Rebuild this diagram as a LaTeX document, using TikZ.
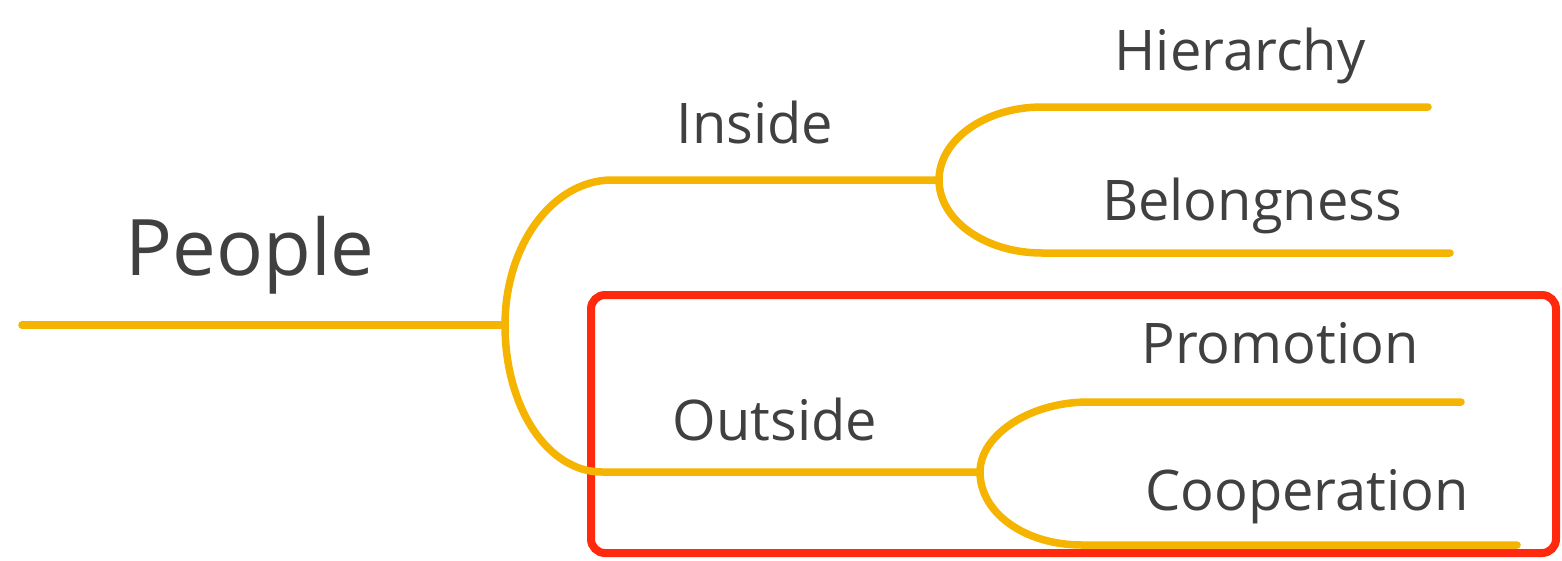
\documentclass[tikz,border=0pt]{standalone}
\usepackage{fontspec}
\setmainfont{Open Sans}
\definecolor{branch}{HTML}{F5B400}
\definecolor{frame}{HTML}{FF2A0E}
\definecolor{ink}{HTML}{404040}
\begin{document}
\begin{tikzpicture}[x=1pt,y=-1pt,
  br/.style={draw=branch,line width=7.5pt,line cap=round},
  lab/.style={anchor=base,inner sep=0pt,text=ink,font=\fontsize{56}{56}\selectfont},
  biglab/.style={anchor=base,inner sep=0pt,text=ink,font=\fontsize{78}{78}\selectfont}]
\useasboundingbox (0,0) rectangle (1562,560);
% red frame
\draw[frame,line width=8pt,rounded corners=14pt] (591,295) rectangle (1556,553);
% coordinates
\coordinate (r0) at (22,325);
\coordinate (rj) at (505,325);
\coordinate (in0) at (612,180);
\coordinate (inj) at (939,180);
\coordinate (out0) at (602,472);
\coordinate (outj) at (980,472);
\coordinate (h0) at (1042,107);
\coordinate (h1) at (1428,107);
\coordinate (b0) at (1042,253);
\coordinate (b1) at (1450,253);
\coordinate (p0) at (1088,402);
\coordinate (p1) at (1461,402);
\coordinate (c0) at (1082,545);
\coordinate (c1) at (1517,545);
% branches
\draw[br] (r0) -- (rj);
\draw[br] (rj) .. controls (505,245) and (553,180) .. (in0) -- (inj);
\draw[br] (rj) .. controls (505,408) and (548,472) .. (out0) -- (outj);
\draw[br] (inj) .. controls (939,140) and (985,107) .. (h0) -- (h1);
\draw[br] (inj) .. controls (939,220) and (985,253) .. (b0) -- (b1);
\draw[br] (outj) .. controls (980,435) and (1030,402) .. (p0) -- (p1);
\draw[br] (outj) .. controls (980,513) and (1025,545) .. (c0) -- (c1);
% labels
\node[biglab] (people) at (250,275) {People};
\node[lab] (inside) at (755,143) {Inside};
\node[lab] (hier) at (1240,70) {Hierarchy};
\node[lab] (belong) at (1252,220) {Belongness};
\node[lab] (outside) at (775,440) {Outside};
\node[lab] (promo) at (1280,363) {Promotion};
\node[lab] (coop) at (1307,510) {Cooperation};
\end{tikzpicture}
\end{document}
